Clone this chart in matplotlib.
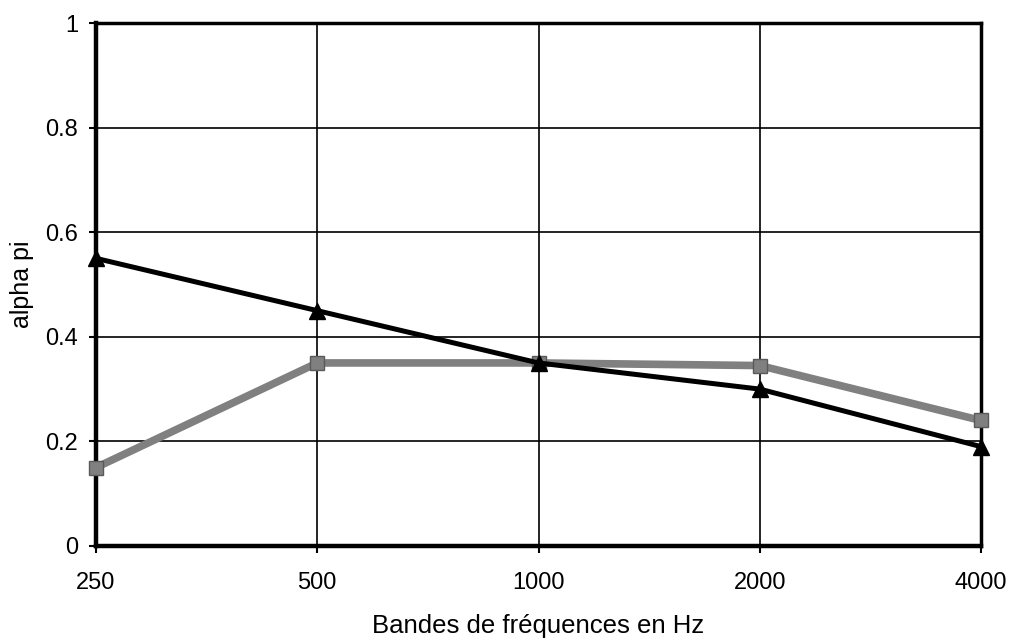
import matplotlib
matplotlib.use("Agg")
import matplotlib.pyplot as plt

plt.rcParams['font.family'] = ['Liberation Sans', 'DejaVu Sans']

bands = ["250", "500", "1000", "2000", "4000"]
series_triangle = [0.55, 0.45, 0.35, 0.30, 0.19]
series_square = [0.15, 0.35, 0.35, 0.345, 0.24]
y_ticks = [0, 0.2, 0.4, 0.6, 0.8, 1]
y_tick_labels = ["0", "0.2", "0.4", "0.6", "0.8", "1"]

fig = plt.figure(figsize=(10.09, 6.44), dpi=100)
ax = fig.add_axes([96/1009, (644-546)/644, (981-96)/1009, (546-23)/644])

x = list(range(len(bands)))
ax.plot(x, series_square, color='#808080', lw=5.5, marker='s', ms=10,
        markerfacecolor='#808080', markeredgecolor='#5a5a5a', zorder=3, clip_on=False)
ax.plot(x, series_triangle, color='black', lw=3.6, marker='^', ms=11,
        zorder=4, clip_on=False)

ax.set_xlim(0, len(bands) - 1)
ax.set_ylim(0, 1)
ax.set_xticks(x)
ax.set_xticklabels(bands)
ax.set_yticks(y_ticks)
ax.set_yticklabels(y_tick_labels)
ax.grid(True, color='black', lw=1.2)
ax.set_axisbelow(True)

for s in ['left', 'bottom']:
    ax.spines[s].set_linewidth(3.2)
for s in ['top', 'right']:
    ax.spines[s].set_linewidth(2.5)

ax.tick_params(axis='both', labelsize=17, length=5, width=1.5, direction='out')
ax.tick_params(axis='y', pad=8)
ax.tick_params(axis='x', pad=14)
ax.set_xlabel("Bandes de fréquences en Hz", fontsize=18.5, labelpad=14)
ax.set_ylabel("alpha pi", fontsize=18, labelpad=8)

fig.savefig("out.png", dpi=100)
